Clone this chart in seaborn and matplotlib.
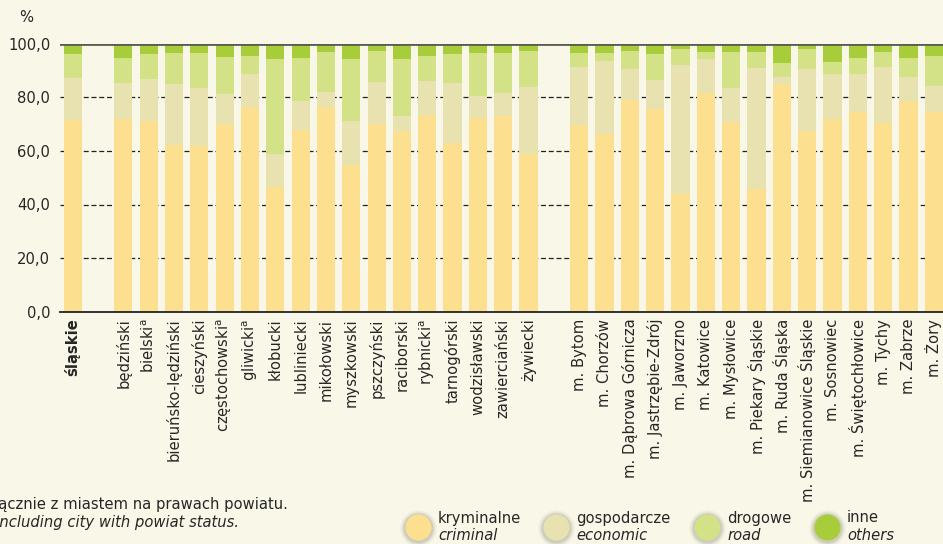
import matplotlib
matplotlib.use("Agg")
import matplotlib.pyplot as plt
import seaborn as sns
import pandas as pd
import numpy as np

# Shares of offence categories (%), per powiat and city with powiat status
regions = [
    "śląskie",
    "będziński", "bielski", "bieruńsko-lędziński", "cieszyński", "częstochowski",
    "gliwicki", "kłobucki", "lubliniecki", "mikołowski", "myszkowski", "pszczyński",
    "raciborski", "rybnicki", "tarnogórski", "wodzisławski", "zawierciański", "żywiecki",
    "m. Bytom", "m. Chorzów", "m. Dąbrowa Górnicza", "m. Jastrzębie-Zdrój", "m. Jaworzno",
    "m. Katowice", "m. Mysłowice", "m. Piekary Śląskie", "m. Ruda Śląska",
    "m. Siemianowice Śląskie", "m. Sosnowiec", "m. Świętochłowice", "m. Tychy",
    "m. Zabrze", "m. Żory",
]
criminal = [
    71.5,
    71.9, 71.0, 62.2, 61.9, 70.1, 76.2, 46.4, 67.9, 76.2, 54.7, 70.1,
    67.4, 73.3, 62.9, 72.4, 73.0, 59.0,
    69.7, 66.4, 79.1, 75.6, 44.0, 81.6, 70.9, 45.8, 84.9,
    67.4, 71.9, 74.6, 70.4, 78.6, 74.6,
]
economic = [
    15.7,
    13.4, 15.8, 22.7, 21.6, 11.1, 12.5, 12.4, 10.7, 5.8, 16.4, 15.6,
    5.6, 12.8, 22.4, 8.1, 8.6, 24.8,
    21.6, 27.1, 11.4, 10.8, 48.0, 12.7, 12.6, 45.1, 2.7,
    23.1, 16.8, 14.1, 20.9, 9.0, 9.6,
]
road = [
    8.9,
    9.4, 9.3, 11.6, 13.0, 13.8, 6.7, 35.5, 16.1, 14.9, 23.2, 11.6,
    21.3, 9.3, 10.8, 16.0, 14.9, 13.5,
    5.2, 3.0, 6.8, 9.7, 6.0, 2.6, 13.4, 6.0, 5.2,
    7.5, 4.5, 6.0, 5.6, 7.1, 11.2,
]
others = [round(100 - c - e - r, 1) for c, e, r in zip(criminal, economic, road)]
footnoted = {"bielski", "częstochowski", "gliwicki", "rybnicki"}

series_pl = ["kryminalne", "gospodarcze", "drogowe", "inne"]
series_en = ["criminal", "economic", "road", "others"]
colors = ["#FDE08F", "#E8E2B1", "#D3E287", "#A7CD3A"]
bg = "#F9F7E7"
ink = "#262626"
fs = 10.6

sns.set_theme(style="white")
plt.rcParams["font.family"] = ["DejaVu Sans"]
plt.rcParams["mathtext.fontset"] = "dejavusans"

df = pd.DataFrame({"region": regions, "criminal": criminal, "economic": economic,
                   "road": road, "others": others})
df["c1"] = df["criminal"]
df["c2"] = df["c1"] + df["economic"]
df["c3"] = df["c2"] + df["road"]
df["c4"] = df["c3"] + df["others"]

# slot order with two empty separators
order = [regions[0], " "] + regions[1:18] + ["  "] + regions[18:]

fig = plt.figure(figsize=(9.43, 5.44), dpi=100, facecolor=bg)
ax = fig.add_axes([60 / 943, 1 - 311.7 / 544, 1 - 60 / 943, (311.7 - 43.7) / 544])
ax.set_facecolor(bg)

# stacked bars: cumulative totals drawn from the tallest layer down
for col, colr in zip(["c4", "c3", "c2", "c1"], colors[::-1]):
    sns.barplot(data=df, x="region", y=col, order=order, color=colr, saturation=1,
                width=0.72, errorbar=None, linewidth=0, ax=ax, zorder=2)

ax.set_xlim(-0.5, 34.36)
ax.set_ylim(0, 100)
ax.set_yticks([0, 20, 40, 60, 80, 100])
ax.set_yticklabels([f"{v:.1f}".replace(".", ",") for v in [0, 20, 40, 60, 80, 100]],
                   fontsize=fs, color=ink)
for yv in [20, 40, 60, 80]:
    ax.axhline(yv, color="#222222", lw=0.9, ls=(0, (4, 2.2)), zorder=1)
ax.axhline(100, color="#5B5B52", lw=2.0, zorder=3)
ax.set_xlabel("")
ax.set_ylabel("")
for s in ["left", "right", "top"]:
    ax.spines[s].set_visible(False)
ax.spines["bottom"].set_color("#222222")
ax.spines["bottom"].set_linewidth(1.3)
ax.spines["bottom"].set_zorder(4)
ax.tick_params(axis="x", length=0, pad=5)
ax.tick_params(axis="y", length=0, pad=7)

labels = []
for name in order:
    if name in footnoted:
        labels.append(name + r"$^{\mathrm{a}}$")
    else:
        labels.append(name)
ax.set_xticks(range(len(order)))
ax.set_xticklabels(labels, rotation=90, fontsize=fs, color=ink, va="top")
ax.get_xticklabels()[0].set_fontweight("bold")

# overlay in pixel coordinates for annotations and legend
ov = fig.add_axes([0, 0, 1, 1], facecolor="none")
ov.set_xlim(0, 943)
ov.set_ylim(544, 0)
ov.axis("off")

ov.text(26, 17, "%", fontsize=fs, ha="center", va="center", color=ink)

ov.text(288, 505, "Łącznie z miastem na prawach powiatu.", fontsize=fs,
        ha="right", va="center", color=ink)
ov.text(239, 522, "Including city with powiat status.", fontsize=fs,
        ha="right", va="center", style="italic", color=ink)

leg_x = [418, 556, 707, 827]
for x, colr, pl, en in zip(leg_x, colors, series_pl, series_en):
    # soft shadow ring around each swatch
    for s_, a_ in [(700, 0.05), (600, 0.08), (520, 0.11), (450, 0.14)]:
        ov.scatter([x], [527.5], s=s_, color="#7d7d66", alpha=a_, linewidths=0, zorder=2)
    ov.scatter([x], [527], s=350, color=colr, linewidths=0, zorder=3)
    ov.text(x + 20, 518, pl, fontsize=fs, ha="left", va="center", color=ink)
    ov.text(x + 20, 536, en, fontsize=fs, ha="left", va="center", style="italic",
            color=ink)

fig.savefig("out.png", dpi=100, facecolor=bg)
